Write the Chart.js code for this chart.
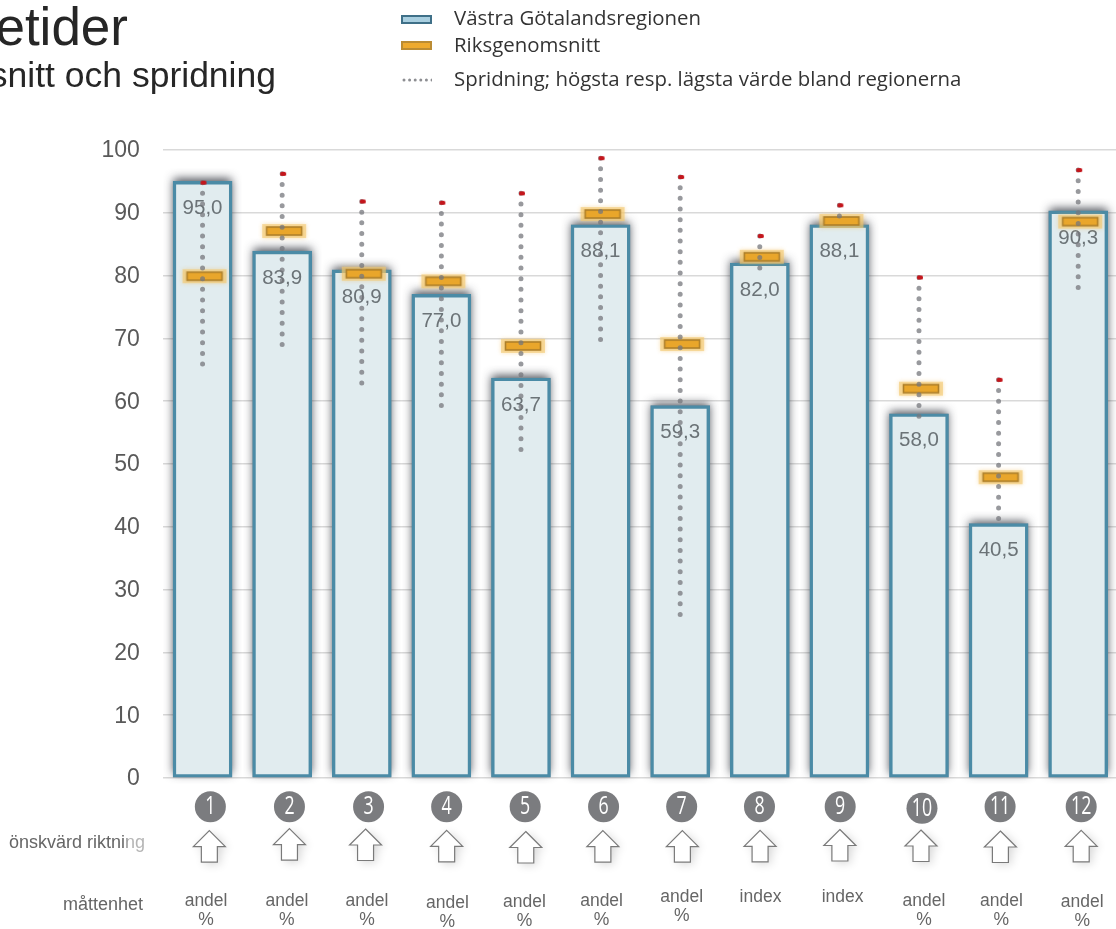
<!DOCTYPE html>
<html lang="sv">
<head>
<meta charset="utf-8">
<title>Väntetider</title>
<script src="https://cdn.jsdelivr.net/npm/chart.js@4/dist/chart.umd.min.js"></script>
<style>
html,body{margin:0;padding:0;width:1116px;height:929px;overflow:hidden;background:#fff}
#wrap{position:relative;width:1116px;height:929px;overflow:hidden}
canvas{position:absolute;left:0;top:0}
.t{position:absolute;white-space:nowrap;font-family:"Liberation Sans",Arial,sans-serif;color:#262626}
.lg{position:absolute;left:454px;white-space:nowrap;font-family:"Open Sans",sans-serif;font-size:20.4px;line-height:24px;color:#333}
.sw{position:absolute;left:401px;width:27px;height:5px;border-width:2px;border-style:solid}
</style>
</head>
<body>
<div id="wrap">
<canvas id="c" width="1124" height="929"></canvas>
<div class="t" style="right:988px;top:-1px;font-size:53px;line-height:56px">tetider</div>
<div class="t" style="right:840px;top:55px;font-size:35.5px;line-height:40px">snitt och spridning</div>
<div class="sw" style="top:15px;background:#a9cfe0;border-color:#3f7088"></div>
<div class="lg" style="top:5px">Västra Götalandsregionen</div>
<div class="sw" style="top:41px;background:#eeaa2e;border-color:#bb8c33"></div>
<div class="lg" style="top:32px">Riksgenomsnitt</div>
<svg style="position:absolute;left:400px;top:76px" width="32" height="8"><line x1="4" x2="32" y1="4" y2="4" stroke="#8d8e92" stroke-width="3" stroke-linecap="round" stroke-dasharray="0 5.6"/></svg>
<div class="lg" style="top:66px">Spridning; högsta resp. lägsta värde bland regionerna</div>
</div>
<script>
const categories = ['1','2','3','4','5','6','7','8','9','10','11','12'];
const regionValues = [95.0,83.9,80.9,77.0,63.7,88.1,59.3,82.0,88.1,58.0,40.5,90.3];
const nationalAverage = [79.9,87.1,80.3,79.1,68.8,89.8,69.1,83.0,88.7,62.0,47.9,88.6];
const highestValues = [94.8,96.2,91.8,91.6,93.1,98.7,95.7,86.3,91.2,79.7,63.4,96.8];
const lowestValues = [65.8,68.9,62.9,59.3,52.0,69.7,25.8,81.2,87.9,57.5,41.2,78.0];
const units = ['andel %','andel %','andel %','andel %','andel %','andel %','andel %','index','index','andel %','andel %','andel %'];
const yTicks = [0,10,20,30,40,50,60,70,80,90,100];

/* small hand-placement nudges seen in the picture */
const circleDx = [7.8,7.3,6.8,5.3,4.2,3,1.5,-0.3,0.8,3,1.5,3];
const circleDy = [0,0,0,0,0,0,0,0,0,1.5,0,0];
const arrowDx = [6.8,7.3,3.8,5.3,4.8,2.3,2.2,0.3,0.5,2,1.8,3];
const arrowTop = [830.7,828.7,829,830.3,831.5,830.7,830.7,830.3,829.5,830,831,830.3];
const unitDx = [3.5,4.7,5.2,6,3.5,1,1.5,0.7,3.2,5,2.8,4];
const unitY = [901,901,901,902.7,902.5,901,897,897,897,901,901,902.5];

function markerCanvas(){
  const c=document.createElement('canvas');c.width=64;c.height=32;
  const g=c.getContext('2d');
  g.save();g.shadowColor='rgba(240,185,80,.7)';g.shadowBlur=4;g.fillStyle='rgba(244,200,110,.6)';
  g.fillRect(12,9,44,14);g.restore();
  g.fillStyle='#e9a62b';g.strokeStyle='#ad7f2a';g.lineWidth=1.6;
  g.fillRect(16.5,12,35,8);g.strokeRect(16.5,12,35,8);
  return c;
}
function redCanvas(){
  const c=document.createElement('canvas');c.width=10;c.height=6;
  const g=c.getContext('2d');g.fillStyle='#c4161c';
  g.beginPath();g.roundRect(3,1,6,4,1.5);g.fill();
  return c;
}

const barStyle={
  id:'barStyle',
  beforeDatasetDraw(chart,args){
    if(args.index!==0)return;
    const ctx=chart.ctx;ctx.save();
    ctx.shadowColor='rgba(45,48,58,.85)';ctx.shadowBlur=9;ctx.shadowOffsetY=-3;ctx.fillStyle='#8a8d92';
    chart.getDatasetMeta(0).data.forEach(b=>{
      ctx.fillRect(b.x-b.width/2,b.y,b.width,b.base-b.y);
    });
    ctx.restore();
  },
  afterDatasetDraw(chart,args){
    if(args.index!==0)return;
    const ctx=chart.ctx;
    const x=chart.scales.x,y=chart.scales.y;
    ctx.save();
    ctx.font='20.5px "Liberation Sans",Arial,sans-serif';
    ctx.fillStyle='#6b7377';ctx.textAlign='center';ctx.textBaseline='middle';
    regionValues.forEach((v,i)=>{
      ctx.fillText(v.toFixed(1).replace('.',','),x.getPixelForValue(i),y.getPixelForValue(v)+27);
    });
    ctx.restore();
  }
};

const footer={
  id:'footer',
  afterDraw(chart){
    const ctx=chart.ctx,x=chart.scales.x;
    ctx.save();
    categories.forEach((lab,i)=>{
      const base=x.getPixelForValue(i);
      /* numbered circle */
      const cx=base+circleDx[i],cy=806.7+circleDy[i];
      ctx.fillStyle='#7b7c7f';
      ctx.beginPath();ctx.arc(cx,cy,15.5,0,Math.PI*2);ctx.fill();
      ctx.save();
      ctx.translate(cx,cy);ctx.scale(.74,1.05);
      ctx.fillStyle='#fff';ctx.textAlign='center';ctx.textBaseline='middle';
      ctx.font='24px "Open Sans",sans-serif';
      ctx.fillText(lab,0,0.5);
      ctx.restore();
      /* arrow */
      const ax=base+arrowDx[i],t=arrowTop[i];
      ctx.save();
      ctx.shadowColor='rgba(0,0,0,.16)';ctx.shadowBlur=10;ctx.shadowOffsetX=3;ctx.shadowOffsetY=2;
      ctx.beginPath();
      ctx.moveTo(ax,t);ctx.lineTo(ax+16,t+16);ctx.lineTo(ax+8,t+16);ctx.lineTo(ax+8,t+31.5);
      ctx.lineTo(ax-8,t+31.5);ctx.lineTo(ax-8,t+16);ctx.lineTo(ax-16,t+16);ctx.closePath();
      ctx.fillStyle='#fff';ctx.fill();
      ctx.shadowColor='transparent';
      ctx.strokeStyle='#7a7a7a';ctx.lineWidth=1.2;ctx.stroke();
      ctx.restore();
      /* unit */
      ctx.fillStyle='#666';ctx.font='17.5px "Liberation Sans",Arial,sans-serif';
      ctx.textAlign='center';ctx.textBaseline='middle';
      const ux=base+unitDx[i];
      units[i].split(' ').forEach((w,k)=>ctx.fillText(w,ux,unitY[i]+k*19));
    });
    ctx.font='18px "Liberation Sans",Arial,sans-serif';ctx.textBaseline='middle';
    ctx.textAlign='left';
    const fade=ctx.createLinearGradient(123,0,129,0);
    fade.addColorStop(0,'#666');fade.addColorStop(1,'#b5b5b5');
    ctx.fillStyle=fade;
    ctx.fillText('önskvärd riktning',9,843);
    ctx.fillStyle='#666';
    ctx.textAlign='right';ctx.fillText('måttenhet',143,905);
    ctx.restore();
  }
};

const spreadSets=categories.map((cat,i)=>({
  type:'line',label:'Spridning '+cat,
  data:[{x:cat,y:highestValues[i]},{x:cat,y:lowestValues[i]}],
  borderColor:'rgba(118,119,124,.75)',borderWidth:5,borderCapStyle:'round',
  borderDash:[0,10.67],pointRadius:0,fill:false,order:2
}));

new Chart(document.getElementById('c'),{
  data:{
    labels:categories,
    datasets:[
      {type:'bar',label:'Västra Götalandsregionen',data:regionValues,
       backgroundColor:'#e1ecef',borderColor:'#4b8ba6',borderWidth:3.4,borderSkipped:false,
       barThickness:59,order:4},
      {type:'line',label:'Riksgenomsnitt',data:nationalAverage,showLine:false,
       pointStyle:markerCanvas(),pointRadius:5,order:3},
      ...spreadSets,
      {type:'line',label:'Högsta värde',data:highestValues,showLine:false,
       pointStyle:redCanvas(),pointRadius:3,order:1}
    ]
  },
  options:{
    responsive:false,animation:false,events:[],
    layout:{padding:{top:150,right:3.25,bottom:151,left:0}},
    plugins:{legend:{display:false},tooltip:{enabled:false}},
    scales:{
      x:{offset:true,grid:{display:false},border:{display:false},ticks:{display:false},
         afterFit(s){s.height=0}},
      y:{min:0,max:100,
         afterFit(s){s.width=162.75},
         afterBuildTicks(s){s.ticks=yTicks.map(v=>({value:v}))},
         grid:{color:'#d9d9d9',lineWidth:1.5,drawTicks:false},border:{display:false},
         ticks:{padding:23,labelOffset:1,color:'#595959',font:{family:'"Liberation Sans",Arial,sans-serif',size:23}}}
    }
  },
  plugins:[barStyle,footer]
});
</script>
</body>
</html>
